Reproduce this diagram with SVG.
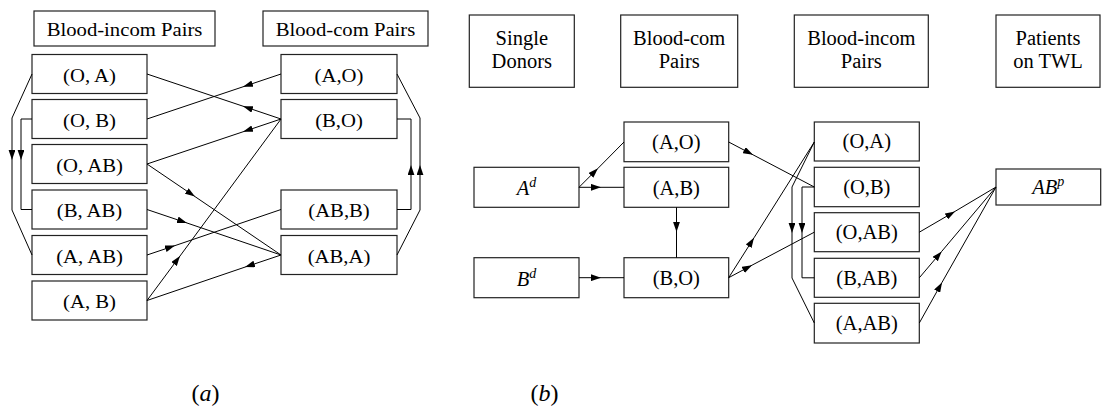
<svg xmlns="http://www.w3.org/2000/svg" width="1104" height="409" viewBox="0 0 1104 409" font-family="'Liberation Serif', 'Times New Roman', 'DejaVu Serif', serif">
<style>
rect{fill:#fff;stroke:#222;stroke-width:1.2}
text{fill:#000;text-anchor:middle}
.ta{font-size:18px}
.tb{font-size:20.5px}
.it{font-style:italic}
.c{fill:none;stroke:#000;stroke-width:1}
.cap{font-size:24px}
</style>
<defs>
<marker id="ah" markerWidth="10" markerHeight="7" refX="10" refY="3.4" orient="auto" markerUnits="userSpaceOnUse"><path d="M0,0 L10,3.4 L0,6.8 z" fill="#000"/></marker>
</defs>
<rect x="0" y="0" width="1104" height="409" style="stroke:none;fill:#fff"/>
<!-- Panel (a) -->
<g id="a-hdr-incom"><rect x="34" y="11" width="181" height="35"/><text class="ta" transform="translate(124.5,35.5) scale(1.15,1)">Blood-incom Pairs</text></g>
<g id="a-hdr-com"><rect x="263" y="11" width="165" height="35"/><text class="ta" transform="translate(345.5,35.5) scale(1.15,1)">Blood-com Pairs</text></g>
<g id="a-OA"><rect x="32" y="54.5" width="115" height="39"/><text class="ta" transform="translate(89.5,81.5) scale(1.15,1)">(O, A)</text></g>
<g id="a-OB"><rect x="32" y="99.5" width="115" height="39"/><text class="ta" transform="translate(89.5,126.5) scale(1.15,1)">(O, B)</text></g>
<g id="a-OAB"><rect x="32" y="144.5" width="115" height="39"/><text class="ta" transform="translate(89.5,171.5) scale(1.15,1)">(O, AB)</text></g>
<g id="a-BAB"><rect x="32" y="190" width="115" height="39"/><text class="ta" transform="translate(89.5,217) scale(1.15,1)">(B, AB)</text></g>
<g id="a-AAB"><rect x="32" y="235.5" width="115" height="39"/><text class="ta" transform="translate(89.5,262.5) scale(1.15,1)">(A, AB)</text></g>
<g id="a-AB"><rect x="32" y="281" width="115" height="39"/><text class="ta" transform="translate(89.5,308) scale(1.15,1)">(A, B)</text></g>
<g id="a-AO"><rect x="281" y="54.5" width="116" height="39"/><text class="ta" transform="translate(339,81.5) scale(1.15,1)">(A,O)</text></g>
<g id="a-BO"><rect x="281" y="99.5" width="116" height="39"/><text class="ta" transform="translate(339,126.5) scale(1.15,1)">(B,O)</text></g>
<g id="a-ABB"><rect x="281" y="190" width="116" height="39"/><text class="ta" transform="translate(339,217) scale(1.15,1)">(AB,B)</text></g>
<g id="a-ABA"><rect x="281" y="235.5" width="116" height="39"/><text class="ta" transform="translate(339,262.5) scale(1.15,1)">(AB,A)</text></g>
<!-- Panel (b) -->
<g id="b-hdr-single"><rect x="469.3" y="15" width="105" height="72.3"/><text class="tb" x="521.8" y="45">Single</text><text class="tb" x="521.8" y="68.3">Donors</text></g>
<g id="b-hdr-com"><rect x="620.7" y="15" width="117" height="72.3"/><text class="tb" x="679.2" y="45">Blood-com</text><text class="tb" x="679.2" y="68.3">Pairs</text></g>
<g id="b-hdr-incom"><rect x="794.3" y="15" width="134" height="72.3"/><text class="tb" x="861.3" y="45">Blood-incom</text><text class="tb" x="861.3" y="68.3">Pairs</text></g>
<g id="b-hdr-twl"><rect x="996" y="15" width="104" height="72.3"/><text class="tb" x="1048" y="45">Patients</text><text class="tb" x="1048" y="68.3">on TWL</text></g>
<g id="b-Ad"><rect x="474" y="167.3" width="105" height="40"/><text class="tb it" x="526.5" y="195">A<tspan font-size="14" dy="-8">d</tspan></text></g>
<g id="b-Bd"><rect x="474" y="257.7" width="105" height="40"/><text class="tb it" x="526.5" y="285.5">B<tspan font-size="14" dy="-8">d</tspan></text></g>
<g id="b-AO"><rect x="624" y="122" width="104.7" height="39.7"/><text class="tb" x="676.3" y="148.5">(A,O)</text></g>
<g id="b-AB"><rect x="624" y="167.3" width="104.7" height="40"/><text class="tb" x="676.3" y="194.5">(A,B)</text></g>
<g id="b-BO"><rect x="624" y="257.7" width="104.7" height="40"/><text class="tb" x="676.3" y="284.5">(B,O)</text></g>
<g id="b-OA"><rect x="814.3" y="122" width="105" height="39"/><text class="tb" x="866.8" y="148">(O,A)</text></g>
<g id="b-OB"><rect x="814.3" y="167.3" width="105" height="39.4"/><text class="tb" x="866.8" y="193.5">(O,B)</text></g>
<g id="b-OAB"><rect x="814.3" y="212.7" width="105" height="39"/><text class="tb" x="866.8" y="239">(O,AB)</text></g>
<g id="b-BAB"><rect x="814.3" y="258.3" width="105" height="39"/><text class="tb" x="866.8" y="284.5">(B,AB)</text></g>
<g id="b-AAB"><rect x="814.3" y="303.3" width="105" height="39.7"/><text class="tb" x="866.8" y="330">(A,AB)</text></g>
<g id="b-ABp"><rect x="996" y="169" width="104.7" height="36"/><text class="tb it" x="1048.3" y="194">AB<tspan font-size="14" dy="-8">p</tspan></text></g>
<!-- connectors -->
<g id="connectors">
<path class="c" marker-end="url(#ah)" d="M281,74 L243,86.8"/><path class="c" d="M243,86.8 L147,119"/>
<path class="c" marker-end="url(#ah)" d="M281,119 L243,106.2"/><path class="c" d="M243,106.2 L147,74"/>
<path class="c" marker-end="url(#ah)" d="M281,119 L243,131.8"/><path class="c" d="M243,131.8 L147,164"/>
<path class="c" marker-end="url(#ah)" d="M147,300.5 L180,256"/><path class="c" d="M180,256 L281,119"/>
<path class="c" marker-end="url(#ah)" d="M147,164 L195,196.6"/><path class="c" d="M195,196.6 L281,255"/>
<path class="c" marker-end="url(#ah)" d="M147,209.5 L187,223"/><path class="c" d="M187,223 L281,255"/>
<path class="c" marker-end="url(#ah)" d="M147,255 L175,245.6"/><path class="c" d="M175,245.6 L281,209.5"/>
<path class="c" marker-end="url(#ah)" d="M281,255 L245,267.1"/><path class="c" d="M245,267.1 L147,300.5"/>
<path class="c" marker-end="url(#ah)" d="M32,74 L12,118 L12,160"/><path class="c" d="M12,160 L12,210 L32,255"/>
<path class="c" marker-end="url(#ah)" d="M32,119 L21,119 L21,160"/><path class="c" d="M21,160 L21,209.5 L32,209.5"/>
<path class="c" marker-end="url(#ah)" d="M397,209.5 L411,209.5 L411,165"/><path class="c" d="M411,165 L411,119 L397,119"/>
<path class="c" marker-end="url(#ah)" d="M397,255 L420,210 L420,165"/><path class="c" d="M420,165 L420,118 L397,74"/>
<path class="c" marker-end="url(#ah)" d="M579,187.3 L598,168.3"/><path class="c" d="M598,168.3 L624,142"/>
<path class="c" marker-end="url(#ah)" d="M579,187.3 L601,187.3"/><path class="c" d="M601,187.3 L624,187.3"/>
<path class="c" marker-end="url(#ah)" d="M579,277.7 L601,277.7"/><path class="c" d="M601,277.7 L624,277.7"/>
<path class="c" marker-end="url(#ah)" d="M676.5,207.3 L676.5,232"/><path class="c" d="M676.5,232 L676.5,257.7"/>
<path class="c" marker-end="url(#ah)" d="M728.7,142 L753,154.8"/><path class="c" d="M753,154.8 L814.3,187"/>
<path class="c" marker-end="url(#ah)" d="M728.7,277.7 L754,237.8"/><path class="c" d="M754,237.8 L814.3,142"/>
<path class="c" marker-end="url(#ah)" d="M728.7,277.7 L752,265.2"/><path class="c" d="M752,265.2 L814.3,232.2"/>
<path class="c" marker-end="url(#ah)" d="M814.3,142 L792,187 L792,233"/><path class="c" d="M792,233 L792,278 L814.3,323"/>
<path class="c" marker-end="url(#ah)" d="M814.3,187 L802,187 L802,233"/><path class="c" d="M802,233 L802,277.8 L814.3,277.8"/>
<path class="c" marker-end="url(#ah)" d="M919.3,232.2 L955,211.4"/><path class="c" d="M955,211.4 L996,187"/>
<path class="c" marker-end="url(#ah)" d="M919.3,277.8 L941.7,251.4"/><path class="c" d="M941.7,251.4 L996,187"/>
<path class="c" marker-end="url(#ah)" d="M919.3,323 L942,282.4"/><path class="c" d="M942,282.4 L996,187"/>
</g>
<text class="cap" x="205.5" y="400.5">(<tspan font-style="italic">a</tspan>)</text>
<text class="cap" x="544.5" y="400.5">(<tspan font-style="italic">b</tspan>)</text>
</svg>
